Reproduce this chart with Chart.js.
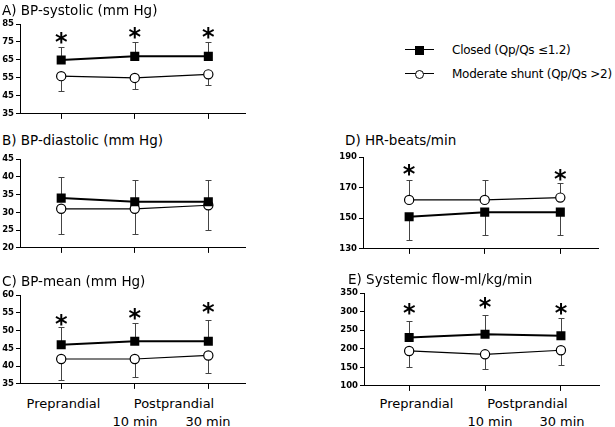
<!DOCTYPE html>
<html>
<head>
<meta charset="utf-8">
<script src="https://cdn.jsdelivr.net/npm/chart.js@4.4.1/dist/chart.umd.min.js"></script>
<style>
  body { margin: 0; background: #fff; font-family: "DejaVu Sans", sans-serif; color: #000; }
  #page { position: relative; width: 615px; height: 427px; overflow: hidden; }
  canvas { position: absolute; }
  .title { position: absolute; font-size: 13.5px; line-height: 15px; white-space: nowrap; }
  .lbl { position: absolute; font-size: 13px; line-height: 15px; white-space: nowrap; transform: translateX(-50%); }
  .leg { position: absolute; font-size: 12px; line-height: 14px; letter-spacing: -0.25px; white-space: nowrap; }
  .legline { position: absolute; height: 0; border-top: 1.5px solid #000; }
  .legsq { position: absolute; width: 9px; height: 9px; background: #000; }
  .legci { position: absolute; width: 7px; height: 7px; border: 1.2px solid #000; border-radius: 50%; background: #fff; }
</style>
</head>
<body>
<div id="page"></div>
<script>
// time points: preprandial, postprandial 10 min, postprandial 30 min
const timePoints = [0, 1, 2];

// A) BP-systolic
const sysTicks = [35, 45, 55, 65, 75, 85];
const sysClosed = [65, 67, 67];
const sysClosedErr = [72, 75, 75];
const sysShunt = [56, 55, 57];
const sysShuntErr = [48, 49, 51];
const sysStars = [77.2, 80, 80];

// B) BP-diastolic
const diaTicks = [20, 25, 30, 35, 40, 45];
const diaClosed = [34, 33, 33];
const diaClosedErr = [40, 39, 39];
const diaShunt = [31, 31, 32];
const diaShuntErr = [24, 24, 25];
const diaStars = [null, null, null];

// C) BP-mean
const meanTicks = [35, 40, 45, 50, 55, 60];
const meanClosed = [46, 47, 47];
const meanClosedErr = [51, 52, 53];
const meanShunt = [42, 42, 43];
const meanShuntErr = [36, 37, 38];
const meanStars = [53, 54.6, 56.3];

// D) HR-beats/min
const hrTicks = [130, 150, 170, 190];
const hrClosed = [151, 154, 154];
const hrClosedErr = [136, 139, 139];
const hrShunt = [162, 162, 163.5];
const hrShuntErr = [175, 175, 173];
const hrStars = [181.3, null, 178];

// E) Systemic flow-ml/kg/min
const flowTicks = [100, 150, 200, 250, 300, 350];
const flowClosed = [230, 239, 235];
const flowClosedErr = [275, 290, 283];
const flowShunt = [194, 185, 196];
const flowShuntErr = [150, 145, 155];
const flowStars = [306, 323, 306];

const legendLabels = ['Closed (Qp/Qs \u22641.2)', 'Moderate shunt (Qp/Qs >2)'];
const xLabelsTop = ['Preprandial', 'Postprandial'];
const xLabelsBottom = ['10 min', '30 min'];

const page = document.getElementById('page');

function addText(cls, text, x, y) {
  const d = document.createElement('div');
  d.className = cls;
  d.textContent = text;
  d.style.left = x + 'px';
  d.style.top = y + 'px';
  page.appendChild(d);
  return d;
}

function makePanel(p) {
  const canvas = document.createElement('canvas');
  const w = p.right + 2 - p.left;
  const h = p.bottom - p.top + 14;
  canvas.width = w;
  canvas.height = h;
  canvas.style.left = p.left + 'px';
  canvas.style.top = (p.top - 8) + 'px';
  page.appendChild(canvas);

  const toPts = arr => timePoints.map((t, i) => ({ x: t, y: arr[i] }));

  // whiskers: one side only, closed and shunt
  const errBars = {
    id: 'errBars',
    beforeDatasetsDraw(chart) {
      const { ctx, scales: { x, y } } = chart;
      ctx.save();
      ctx.strokeStyle = '#444';
      ctx.lineWidth = 1;
      [[p.closed, p.closedErr], [p.shunt, p.shuntErr]].forEach(([vals, errs]) => {
        timePoints.forEach((t, i) => {
          const px = Math.round(x.getPixelForValue(t)) + 0.5;
          const y0 = y.getPixelForValue(vals[i]);
          const y1 = Math.round(y.getPixelForValue(errs[i])) + 0.5;
          ctx.beginPath();
          ctx.moveTo(px, y0);
          ctx.lineTo(px, y1);
          ctx.moveTo(px - 3, y1);
          ctx.lineTo(px + 3, y1);
          ctx.stroke();
        });
      });
      ctx.restore();
    }
  };

  const stars = {
    id: 'stars',
    afterDatasetsDraw(chart) {
      const { ctx, scales: { x, y } } = chart;
      ctx.save();
      ctx.fillStyle = '#000';
      ctx.font = 'bold 24px "DejaVu Sans"';
      ctx.textAlign = 'center';
      ctx.textBaseline = 'alphabetic';
      const m = ctx.measureText('*');
      const off = (m.actualBoundingBoxAscent - m.actualBoundingBoxDescent) / 2;
      p.stars.forEach((s, i) => {
        if (s == null) return;
        ctx.fillText('*', x.getPixelForValue(timePoints[i]), y.getPixelForValue(s) + off);
      });
      ctx.restore();
    }
  };

  new Chart(canvas, {
    type: 'line',
    data: {
      datasets: [
        {
          label: legendLabels[0],
          data: toPts(p.closed),
          borderColor: '#000',
          borderWidth: 2,
          pointStyle: 'rect',
          pointRadius: 6.4,
          pointBackgroundColor: '#000',
          pointBorderColor: '#000',
          pointBorderWidth: 0
        },
        {
          label: legendLabels[1],
          data: toPts(p.shunt),
          borderColor: '#000',
          borderWidth: 1.2,
          pointStyle: 'circle',
          pointRadius: 4.6,
          pointBackgroundColor: '#fff',
          pointBorderColor: '#000',
          pointBorderWidth: 1.2
        }
      ]
    },
    options: {
      responsive: false,
      animation: false,
      devicePixelRatio: 1,
      layout: { padding: { top: 8, right: 2, left: 0, bottom: 0 } },
      plugins: { legend: { display: false }, tooltip: { enabled: false } },
      scales: {
        x: {
          type: 'linear',
          min: -(p.first - p.axisX) / p.step,
          max: (p.right - p.first) / p.step,
          afterBuildTicks: s => { s.ticks = timePoints.map(v => ({ value: v })); },
          afterFit: s => { s.height = 6; },
          ticks: { display: false },
          grid: { drawOnChartArea: false, drawTicks: true, tickLength: 5, color: '#000' },
          border: { display: true, color: '#000', width: 1 }
        },
        y: {
          min: p.ticks[0],
          max: p.ticks[p.ticks.length - 1],
          afterBuildTicks: s => { s.ticks = p.ticks.map(v => ({ value: v })); },
          afterFit: s => { s.width = p.axisX - p.left; },
          ticks: { color: '#000', padding: 2, font: { family: 'DejaVu Sans', size: 8.5, weight: 'bold' } },
          grid: { drawOnChartArea: false, drawTicks: true, tickLength: 4, color: '#000' },
          border: { display: true, color: '#000', width: 1 }
        }
      }
    },
    plugins: [errBars, stars]
  });
}

makePanel({ left: 0, axisX: 20, top: 24, bottom: 115, right: 250, first: 62, step: 75,
  ticks: sysTicks, closed: sysClosed, closedErr: sysClosedErr, shunt: sysShunt, shuntErr: sysShuntErr, stars: sysStars });
makePanel({ left: 0, axisX: 20, top: 159, bottom: 249, right: 250, first: 62, step: 75,
  ticks: diaTicks, closed: diaClosed, closedErr: diaClosedErr, shunt: diaShunt, shuntErr: diaShuntErr, stars: diaStars });
makePanel({ left: 0, axisX: 20, top: 295, bottom: 385, right: 250, first: 62, step: 75,
  ticks: meanTicks, closed: meanClosed, closedErr: meanClosedErr, shunt: meanShunt, shuntErr: meanShuntErr, stars: meanStars });
makePanel({ left: 330, axisX: 363, top: 157, bottom: 250, right: 603, first: 410, step: 77,
  ticks: hrTicks, closed: hrClosed, closedErr: hrClosedErr, shunt: hrShunt, shuntErr: hrShuntErr, stars: hrStars });
makePanel({ left: 330, axisX: 364, top: 293, bottom: 387, right: 604, first: 410, step: 77.3,
  ticks: flowTicks, closed: flowClosed, closedErr: flowClosedErr, shunt: flowShunt, shuntErr: flowShuntErr, stars: flowStars });

// panel titles
addText('title', 'A) BP-systolic (mm Hg)', 2, 3);
addText('title', 'B) BP-diastolic (mm Hg)', 2, 133);
addText('title', 'C) BP-mean (mm Hg)', 2, 274);
addText('title', 'D) HR-beats/min', 345, 133);
addText('title', 'E) Systemic flow-ml/kg/min', 348, 272);

// time labels under C and E
[[63.5, 174, 135, 208], [416.5, 527.5, 490, 562]].forEach(xs => {
  addText('lbl', xLabelsTop[0], xs[0], 396);
  addText('lbl', xLabelsTop[1], xs[1], 396);
  addText('lbl', xLabelsBottom[0], xs[2], 414);
  addText('lbl', xLabelsBottom[1], xs[3], 414);
});

// legend
function legendRow(y, marker, text) {
  const ln = document.createElement('div');
  ln.className = 'legline';
  ln.style.left = '405px'; ln.style.width = '29px'; ln.style.top = (y - 1) + 'px';
  page.appendChild(ln);
  const mk = document.createElement('div');
  mk.className = marker;
  mk.style.left = '414.5px'; mk.style.top = (y - 4.5) + 'px';
  page.appendChild(mk);
  addText('leg', text, 452, y - 7);
}
legendRow(50, 'legsq', legendLabels[0]);
legendRow(74, 'legci', legendLabels[1]);
</script>
</body>
</html>
